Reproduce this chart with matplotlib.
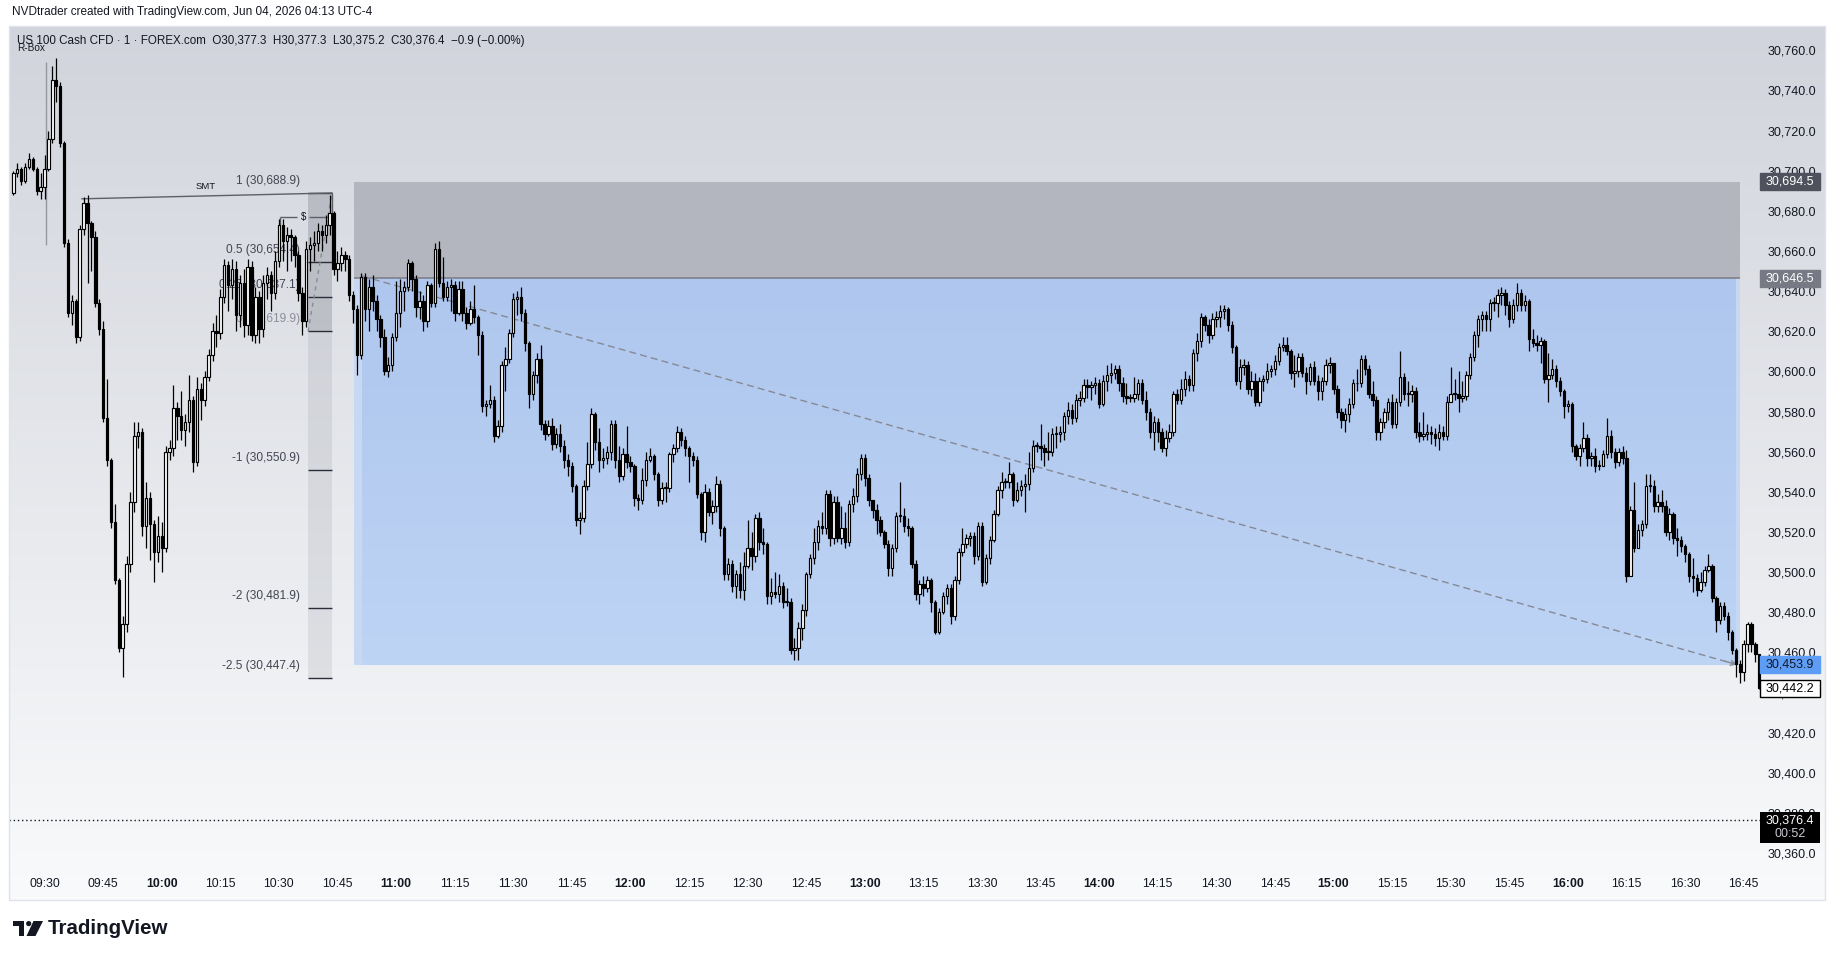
import numpy as np
import matplotlib.pyplot as plt
from matplotlib.patches import Rectangle, Polygon, Circle
from matplotlib.transforms import blended_transform_factory
from matplotlib.ticker import FuncFormatter

# ---- data (1-minute candles, minute 0 = 09:30) ----
first_minute = -8
first_open = 30689.0

closes = [
    30699, 30701, 30695, 30702, 30706, 30701, 30690, 30692, 30701, 30716,
    30745, 30742, 30714, 30664, 30629, 30635, 30617, 30671, 30684, 30674,
    30667, 30634, 30621, 30577, 30556, 30525, 30496, 30462, 30474, 30504,
    30535, 30568, 30570, 30523, 30537, 30524, 30510, 30518, 30512, 30560,
    30562, 30582, 30578, 30571, 30575, 30586, 30555, 30591, 30586, 30597,
    30608, 30620, 30619, 30637, 30653, 30643, 30651, 30628, 30644, 30623,
    30652, 30618, 30637, 30621, 30644, 30648, 30639, 30655, 30673, 30665,
    30668, 30667, 30658, 30639, 30625, 30661, 30663, 30664, 30670, 30668,
    30673, 30679, 30651, 30654, 30658, 30656, 30638, 30631, 30608, 30647,
    30631, 30642, 30635, 30626, 30617, 30600, 30603, 30617, 30629, 30640,
    30642, 30654, 30646, 30632, 30635, 30625, 30643, 30634, 30661, 30644,
    30637, 30642, 30643, 30629, 30641, 30629, 30624, 30631, 30627, 30618,
    30583, 30584, 30586, 30568, 30573, 30603, 30606, 30619, 30636, 30637,
    30629, 30614, 30589, 30598, 30606, 30574, 30569, 30573, 30564, 30569,
    30563, 30556, 30553, 30543, 30526, 30527, 30543, 30554, 30579, 30565,
    30556, 30557, 30560, 30574, 30556, 30548, 30559, 30555, 30553, 30537,
    30536, 30546, 30556, 30558, 30549, 30536, 30542, 30542, 30559, 30562,
    30570, 30566, 30562, 30558, 30556, 30539, 30520, 30540, 30530, 30533,
    30544, 30522, 30499, 30504, 30493, 30499, 30491, 30503, 30512, 30508,
    30527, 30515, 30514, 30488, 30490, 30489, 30493, 30485, 30485, 30461,
    30462, 30472, 30481, 30499, 30507, 30515, 30523, 30522, 30539, 30517,
    30535, 30517, 30522, 30515, 30534, 30538, 30549, 30557, 30547, 30536,
    30531, 30526, 30520, 30514, 30502, 30512, 30528, 30528, 30523, 30522,
    30504, 30489, 30494, 30492, 30496, 30485, 30470, 30480, 30488, 30492,
    30478, 30496, 30510, 30514, 30517, 30518, 30508, 30523, 30495, 30507,
    30516, 30529, 30541, 30545, 30545, 30549, 30536, 30541, 30543, 30544,
    30552, 30563, 30563, 30562, 30560, 30560, 30569, 30569, 30570, 30578,
    30581, 30577, 30586, 30587, 30593, 30592, 30593, 30594, 30584, 30595,
    30598, 30599, 30601, 30594, 30588, 30587, 30587, 30589, 30594, 30586,
    30580, 30570, 30575, 30570, 30562, 30567, 30570, 30589, 30586, 30591,
    30596, 30593, 30609, 30615, 30627, 30623, 30618, 30626, 30627, 30630,
    30631, 30623, 30612, 30595, 30602, 30603, 30591, 30595, 30585, 30595,
    30596, 30600, 30601, 30605, 30612, 30613, 30610, 30599, 30600, 30607,
    30599, 30595, 30602, 30595, 30590, 30595, 30603, 30604, 30591, 30580,
    30576, 30579, 30584, 30594, 30594, 30606, 30601, 30589, 30586, 30570,
    30575, 30580, 30585, 30574, 30585, 30597, 30589, 30589, 30590, 30570,
    30568, 30569, 30570, 30569, 30567, 30570, 30568, 30585, 30589, 30589,
    30587, 30588, 30598, 30607, 30618, 30626, 30628, 30626, 30634, 30634,
    30638, 30639, 30633, 30626, 30633, 30639, 30633, 30635, 30616, 30614,
    30613, 30615, 30596, 30598, 30601, 30595, 30590, 30583, 30584, 30563,
    30558, 30562, 30567, 30557, 30558, 30553, 30553, 30559, 30568, 30560,
    30555, 30560, 30557, 30498, 30531, 30512, 30521, 30524, 30543, 30543,
    30533, 30535, 30533, 30520, 30529, 30517, 30516, 30513, 30509, 30498,
    30497, 30491, 30495, 30501, 30503, 30487, 30476, 30483, 30478, 30470,
    30461, 30454, 30450, 30464, 30474, 30464, 30459, 30442.2,
]

highs = [
    30700, 30704, 30702, 30704, 30709, 30707, 30702, 30699, 30708, 30720,
    30752, 30756, 30744, 30715, 30666, 30638, 30636, 30673, 30687, 30688,
    30675, 30670, 30636, 30625, 30596, 30557, 30534, 30497, 30478, 30508,
    30540, 30575, 30575, 30572, 30545, 30540, 30526, 30528, 30525, 30563,
    30566, 30593, 30585, 30590, 30579, 30598, 30588, 30597, 30594, 30600,
    30611, 30624, 30628, 30641, 30656, 30655, 30656, 30655, 30648, 30651,
    30656, 30655, 30642, 30640, 30648, 30652, 30650, 30660, 30676, 30676,
    30672, 30671, 30668, 30660, 30642, 30665, 30667, 30670, 30674, 30673,
    30678, 30688, 30680, 30660, 30662, 30660, 30658, 30640, 30633, 30649,
    30649, 30646, 30648, 30638, 30628, 30621, 30607, 30619, 30645, 30646,
    30645, 30656, 30655, 30648, 30640, 30638, 30645, 30644, 30664, 30665,
    30657, 30645, 30646, 30645, 30645, 30645, 30632, 30635, 30643, 30628,
    30620, 30586, 30593, 30588, 30576, 30605, 30612, 30621, 30639, 30640,
    30642, 30631, 30615, 30600, 30609, 30613, 30576, 30576, 30577, 30572,
    30574, 30566, 30559, 30555, 30544, 30530, 30546, 30565, 30582, 30580,
    30572, 30562, 30563, 30576, 30576, 30563, 30562, 30573, 30558, 30554,
    30539, 30552, 30560, 30562, 30559, 30550, 30545, 30545, 30560, 30564,
    30573, 30572, 30568, 30563, 30560, 30558, 30540, 30544, 30542, 30536,
    30548, 30546, 30523, 30507, 30506, 30501, 30505, 30510, 30526, 30520,
    30529, 30530, 30522, 30515, 30497, 30500, 30499, 30495, 30492, 30487,
    30467, 30475, 30484, 30500, 30509, 30522, 30526, 30530, 30541, 30541,
    30538, 30538, 30533, 30530, 30536, 30542, 30552, 30559, 30559, 30549,
    30536, 30534, 30528, 30521, 30516, 30514, 30530, 30545, 30532, 30527,
    30523, 30506, 30496, 30498, 30498, 30497, 30486, 30482, 30490, 30494,
    30494, 30498, 30512, 30522, 30519, 30520, 30520, 30525, 30525, 30509,
    30518, 30531, 30543, 30550, 30547, 30555, 30550, 30545, 30546, 30549,
    30560, 30566, 30565, 30574, 30564, 30570, 30572, 30573, 30573, 30580,
    30585, 30584, 30589, 30590, 30596, 30596, 30595, 30597, 30596, 30598,
    30603, 30604, 30603, 30603, 30597, 30594, 30589, 30597, 30596, 30596,
    30590, 30582, 30578, 30577, 30572, 30571, 30574, 30590, 30591, 30596,
    30600, 30598, 30611, 30619, 30629, 30628, 30626, 30629, 30630, 30633,
    30633, 30632, 30625, 30613, 30606, 30606, 30605, 30600, 30599, 30597,
    30598, 30604, 30603, 30608, 30614, 30617, 30617, 30611, 30608, 30609,
    30609, 30602, 30604, 30605, 30598, 30597, 30606, 30607, 30604, 30593,
    30582, 30582, 30587, 30596, 30601, 30608, 30608, 30603, 30595, 30588,
    30577, 30582, 30587, 30589, 30587, 30610, 30599, 30595, 30593, 30592,
    30575, 30580, 30574, 30573, 30572, 30574, 30573, 30588, 30602, 30596,
    30600, 30595, 30600, 30609, 30620, 30628, 30630, 30630, 30636, 30637,
    30641, 30642, 30641, 30635, 30636, 30644, 30641, 30638, 30636, 30621,
    30618, 30617, 30616, 30609, 30606, 30603, 30597, 30591, 30586, 30585,
    30564, 30564, 30575, 30569, 30560, 30562, 30556, 30561, 30577, 30571,
    30562, 30562, 30563, 30561, 30533, 30545, 30524, 30526, 30549, 30549,
    30546, 30539, 30541, 30536, 30532, 30530, 30522, 30518, 30514, 30510,
    30507, 30499, 30500, 30503, 30509, 30504, 30488, 30485, 30485, 30480,
    30471, 30462, 30456, 30466, 30475, 30475, 30465, 30459,
]

lows = [
    30688, 30697, 30693, 30694, 30701, 30700, 30688, 30686, 30686, 30700,
    30714, 30734, 30712, 30662, 30627, 30623, 30614, 30615, 30668, 30644,
    30650, 30632, 30618, 30575, 30553, 30522, 30494, 30460, 30448, 30470,
    30500, 30530, 30562, 30518, 30512, 30506, 30495, 30505, 30500, 30510,
    30556, 30558, 30566, 30566, 30563, 30570, 30550, 30553, 30576, 30583,
    30595, 30605, 30612, 30616, 30634, 30630, 30636, 30620, 30622, 30617,
    30618, 30615, 30614, 30614, 30617, 30636, 30630, 30636, 30652, 30655,
    30650, 30655, 30652, 30635, 30618, 30622, 30650, 30655, 30660, 30660,
    30664, 30668, 30648, 30645, 30650, 30650, 30635, 30624, 30598, 30606,
    30625, 30620, 30630, 30620, 30612, 30598, 30597, 30600, 30615, 30622,
    30630, 30640, 30640, 30627, 30626, 30620, 30622, 30632, 30632, 30642,
    30635, 30635, 30630, 30625, 30628, 30625, 30621, 30623, 30624, 30608,
    30580, 30578, 30582, 30565, 30567, 30570, 30590, 30604, 30617, 30628,
    30625, 30610, 30582, 30586, 30594, 30571, 30566, 30568, 30561, 30562,
    30560, 30552, 30548, 30540, 30523, 30519, 30525, 30541, 30552, 30561,
    30550, 30552, 30554, 30556, 30552, 30545, 30546, 30552, 30550, 30533,
    30531, 30534, 30543, 30555, 30546, 30533, 30534, 30535, 30540, 30555,
    30560, 30563, 30558, 30545, 30553, 30537, 30516, 30515, 30528, 30524,
    30530, 30518, 30496, 30496, 30490, 30487, 30487, 30486, 30502, 30501,
    30505, 30511, 30509, 30484, 30484, 30487, 30485, 30482, 30483, 30459,
    30456, 30456, 30466, 30478, 30497, 30504, 30511, 30519, 30519, 30513,
    30514, 30515, 30514, 30512, 30513, 30530, 30535, 30546, 30543, 30533,
    30527, 30519, 30518, 30512, 30498, 30498, 30510, 30525, 30520, 30518,
    30502, 30486, 30484, 30488, 30490, 30480, 30469, 30469, 30479, 30484,
    30474, 30476, 30494, 30508, 30512, 30513, 30504, 30506, 30493, 30494,
    30504, 30515, 30528, 30537, 30542, 30542, 30533, 30535, 30538, 30530,
    30541, 30550, 30560, 30556, 30553, 30556, 30558, 30562, 30565, 30566,
    30574, 30574, 30575, 30583, 30585, 30587, 30586, 30589, 30582, 30583,
    30590, 30594, 30596, 30590, 30585, 30584, 30585, 30585, 30586, 30584,
    30576, 30567, 30561, 30565, 30560, 30558, 30565, 30568, 30584, 30584,
    30588, 30590, 30590, 30605, 30612, 30620, 30614, 30616, 30622, 30622,
    30626, 30620, 30609, 30593, 30591, 30598, 30589, 30588, 30583, 30583,
    30590, 30594, 30597, 30598, 30603, 30610, 30608, 30596, 30592, 30597,
    30597, 30589, 30593, 30593, 30586, 30586, 30593, 30599, 30589, 30577,
    30572, 30570, 30575, 30582, 30590, 30592, 30598, 30587, 30583, 30566,
    30566, 30572, 30576, 30572, 30572, 30583, 30586, 30583, 30585, 30567,
    30565, 30566, 30566, 30564, 30563, 30561, 30566, 30566, 30585, 30586,
    30580, 30585, 30586, 30596, 30605, 30612, 30620, 30620, 30620, 30630,
    30627, 30633, 30628, 30622, 30624, 30630, 30630, 30630, 30610, 30612,
    30610, 30604, 30594, 30585, 30596, 30592, 30588, 30577, 30580, 30560,
    30556, 30553, 30560, 30553, 30553, 30550, 30551, 30553, 30557, 30557,
    30552, 30553, 30554, 30495, 30498, 30510, 30512, 30518, 30522, 30540,
    30530, 30530, 30530, 30518, 30516, 30514, 30508, 30510, 30505, 30495,
    30490, 30488, 30490, 30493, 30500, 30485, 30470, 30474, 30476, 30466,
    30459, 30448, 30445, 30446, 30460, 30460, 30455, 30442,
]

price_ticks = list(range(30360, 30761, 20))
time_ticks = list(range(0, 436, 15))
time_labels = ['09:30', '09:45', '10:00', '10:15', '10:30', '10:45', '11:00', '11:15',
               '11:30', '11:45', '12:00', '12:15', '12:30', '12:45', '13:00', '13:15',
               '13:30', '13:45', '14:00', '14:15', '14:30', '14:45', '15:00', '15:15',
               '15:30', '15:45', '16:00', '16:15', '16:30', '16:45']

fib_levels = [1, 0.5, 0.25, 0, -1, -2, -2.5]
fib_prices = [30688.9, 30654.4, 30637.1, 30619.9, 30550.9, 30481.9, 30447.4]

zone_top, zone_mid, zone_bottom = 30694.5, 30646.5, 30453.9
last_close = 30442.2
current_price = 30376.4

header = 'NVDtrader created with TradingView.com, Jun 04, 2026 04:13 UTC-4'
legend = ('US 100 Cash CFD \u00b7 1 \u00b7 FOREX.com  O30,377.3  H30,377.3  '
          'L30,375.2  C30,376.4  \u22120.9 (\u22120.00%)')

# ---- figure ----
W, H = 1835, 959
plt.rcParams['font.family'] = ['Liberation Sans', 'DejaVu Sans']
fig = plt.figure(figsize=(W / 100, H / 100), dpi=100)
fig.patch.set_facecolor('white')


def fx(x):
    return x / W


def fy(y):
    return 1 - y / H


TXT = '#131722'

# panel background gradient
bg = fig.add_axes([fx(9), fy(900), fx(1825) - fx(9), fy(26) - fy(900)])
t = np.linspace(0, 1, 256)[:, None, None]
c_top = np.array([209, 212, 220]) / 255
c_bot = np.array([249, 250, 251]) / 255
bg.imshow(c_top + (c_bot - c_top) * t, aspect='auto', extent=[0, 1, 0, 1])
bg.axis('off')

ax = fig.add_axes([fx(9), fy(870), fx(1762) - fx(9), fy(26) - fy(870)])
ax.set_facecolor('none')
for s in ax.spines.values():
    s.set_visible(False)

# zones
x0, x1 = 79.25, 434.07
ax.add_patch(Rectangle((x0, zone_mid), x1 - x0, zone_top - zone_mid,
                       color='#b3b6be', lw=0, zorder=1))
ax.hlines(zone_mid, x0, x1, color='#7e818a', lw=1.2, zorder=1.2)
blue = np.array([[175, 198, 238], [189, 212, 245]]) / 255
tb = np.linspace(0, 1, 64)[:, None, None]
ax.imshow(blue[0] + (blue[1] - blue[0]) * tb, aspect='auto', zorder=1,
          extent=[x0, x1, zone_bottom, zone_mid])
ax.add_patch(Rectangle((x0, zone_bottom), 81.3 - x0, zone_mid - zone_bottom,
                       color='#c7d8f3', lw=0, zorder=1.1))
ax.add_patch(Rectangle((433.05, zone_bottom), x1 - 433.05, zone_mid - zone_bottom,
                       color='#c7d8f3', lw=0, zorder=1.1))

# fib tool
fa, fb = 67.46, 73.6
ax.fill_between([fa, fb], fib_prices[3], fib_prices[0], color='#787b86',
                alpha=0.32, lw=0, zorder=1.5)
ax.fill_between([fa, fb], fib_prices[-1], fib_prices[3], color='#787b86',
                alpha=0.14, lw=0, zorder=1.5)
ax.hlines(fib_prices, fa, fb, color='#2a2e39', lw=1, zorder=1.6)
for lvl, p in zip(fib_levels, fib_prices):
    col = '#8c8f99' if lvl == 0 else '#434651'
    ax.text(65.4, p + 6, f'{lvl:g} ({p:,.1f})', ha='right', va='center',
            fontsize=8.6, color=col, zorder=2)
ax.plot([fa, fb], [fib_prices[3], fib_prices[0]], color='#8a8d96', lw=1,
        dashes=(3, 3), zorder=1.7)

# SMT and $ marks
ax.plot([9.6, fb], [30686.0, fib_prices[0]], color='#5d606b', lw=1, zorder=2.5)
ax.text(41.3, 30692.2, 'SMT', ha='center', va='center', fontsize=6.8,
        color=TXT, zorder=2.5)
ax.vlines(fb, 30677, fib_prices[0], color='#5d606b', lw=1, zorder=2.5)
ax.hlines([30677, 30677], [60.3, 67.7], [64.7, fb], color='#5d606b', lw=1, zorder=2.5)
ax.vlines(60.3, 30673, 30677, color='#5d606b', lw=1, zorder=2.5)
ax.text(66.2, 30677, '$', ha='center', va='center', fontsize=7, color=TXT, zorder=2.5)

# R-Box marker
ax.vlines(0.4, 30663, 30754, color='#9598a1', lw=1, zorder=2.5)

# trend line with arrow
ax.plot([81.3, 433.3], [30647.5, zone_bottom], color='#868993', lw=1,
        dashes=(5, 3), zorder=2.6)
ax.annotate('', xy=(433.3, zone_bottom), xytext=(430.3, 30455.6),
            arrowprops=dict(arrowstyle='->', color='#868993', lw=1,
                            shrinkA=0, shrinkB=0, mutation_scale=9), zorder=2.6)

# current price dotted line
ax.axhline(current_price, color=TXT, lw=1, dashes=(1, 2), zorder=3)

# candles
c = np.array(closes, float)
h = np.array(highs, float)
lo = np.array(lows, float)
o = np.concatenate([[first_open], c[:-1]])
m = np.arange(first_minute, first_minute + len(c))
up = c >= o
body_lo = np.minimum(o, c)
body_hi = np.maximum(o, c)
body_h = np.maximum(body_hi - body_lo, 0.4)
ax.vlines(m, np.minimum(lo, body_lo), np.maximum(h, body_hi), color='black',
          lw=0.9, zorder=4)
ax.bar(m[up], body_h[up], bottom=body_lo[up], width=0.62, color='white',
       edgecolor='black', linewidth=0.85, zorder=5)
ax.bar(m[~up], body_h[~up], bottom=body_lo[~up], width=0.62, color='black',
       edgecolor='black', linewidth=0.85, zorder=5)

# axes and ticks
ax.set_xlim(-9.1, 439.7)
ax.set_ylim(30351.6, 30772.1)
ax.yaxis.tick_right()
ax.set_yticks(price_ticks)
ax.yaxis.set_major_formatter(FuncFormatter(lambda v, p: f'{v:,.1f}'))
ax.tick_params(axis='y', length=0, pad=4.3, labelsize=9, labelcolor=TXT)
ax.set_xticks(time_ticks)
ax.set_xticklabels(time_labels)
ax.tick_params(axis='x', length=0, pad=6, labelsize=8.8, labelcolor=TXT)
for lab in ax.get_xticklabels():
    if lab.get_text().endswith(':00'):
        lab.set_fontweight('bold')

# price label boxes on the right scale
tr = blended_transform_factory(fig.transFigure, ax.transData)
bx0, bx1 = fx(1760), fx(1820)
bh = 8.5


def price_box(price, face, txt_col, edge=None, text=None):
    ax.add_patch(Rectangle((bx0, price - bh / 2), bx1 - bx0, bh, transform=tr,
                           facecolor=face, edgecolor=edge or face, lw=1,
                           clip_on=False, zorder=6))
    ax.text((bx0 + bx1) / 2, price, text or f'{price:,.1f}', transform=tr,
            ha='center', va='center', fontsize=9, color=txt_col,
            clip_on=False, zorder=7)


price_box(zone_top, '#4f525c', 'white')
price_box(zone_mid, '#777a85', 'white')
price_box(zone_bottom, '#5d9df5', TXT)
price_box(last_close, 'white', 'black', edge='black')

ax.add_patch(Rectangle((bx0, 30365.3), bx1 - bx0, 15.0, transform=tr,
                       facecolor='black', lw=0, clip_on=False, zorder=6))
ax.text((bx0 + bx1) / 2, current_price, f'{current_price:,.1f}', transform=tr,
        ha='center', va='center', fontsize=9, color='white', zorder=7)
ax.text((bx0 + bx1) / 2, 30369.4, '00:52', transform=tr, ha='center',
        va='center', fontsize=9, color='#c8cad0', zorder=7)

# header texts
fig.text(fx(12), fy(12), header, fontsize=8.5, color=TXT, va='center')
fig.text(fx(17), fy(41), legend, fontsize=8.4, color=TXT, va='center')
fig.text(fx(17), fy(48), 'R-Box', fontsize=7.2, color=TXT, va='center')

# overlay: panel border and logo
ov = fig.add_axes([0, 0, 1, 1])
ov.set_xlim(0, W)
ov.set_ylim(H, 0)
ov.axis('off')
ov.patch.set_alpha(0)
ov.add_patch(Rectangle((9, 26), 1816, 874, fill=False, edgecolor='#e0e3eb', lw=1))
ov.add_patch(Rectangle((13, 921), 11, 5, color='#131722', lw=0))
ov.add_patch(Rectangle((18.5, 921), 5.5, 15, color='#131722', lw=0))
ov.add_patch(Circle((28.7, 923.6), 2.6, color='#131722', lw=0))
ov.add_patch(Polygon([(33.5, 921), (43, 921), (35.5, 936), (26.5, 936)],
                     closed=True, color='#131722', lw=0))
ov.text(48, 928.5, 'TradingView', fontsize=14.8, fontweight='bold',
        color=TXT, va='center', ha='left')

fig.savefig('out.png', dpi=100)
